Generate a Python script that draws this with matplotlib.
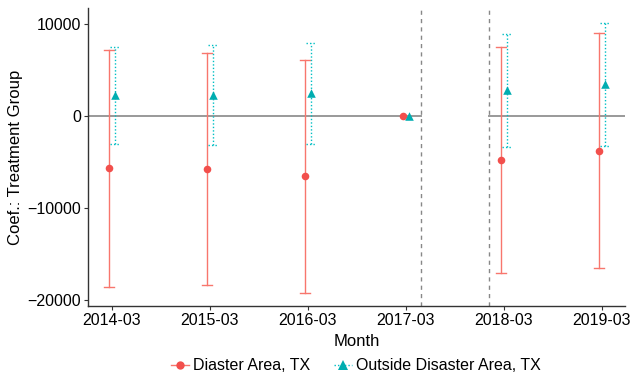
import matplotlib
matplotlib.use("Agg")
import matplotlib.pyplot as plt
from matplotlib.lines import Line2D
import numpy as np

plt.rcParams['font.family'] = ['Liberation Sans', 'DejaVu Sans']

# data
months = ['2014-03', '2015-03', '2016-03', '2017-03', '2018-03', '2019-03']
x_pos = [2014, 2015, 2016, 2017, 2018, 2019]

dis_coef = [-5650, -5800, -6520, 0, -4780, -3770]
dis_lo = [-18550, -18400, -19200, 0, -17030, -16520]
dis_hi = [7170, 6880, 6050, 0, 7500, 8990]

out_coef = [2280, 2280, 2460, 0, 2830, 3480]
out_lo = [-3040, -3150, -3040, 0, -3400, -3260]
out_hi = [7530, 7680, 7900, 0, 8880, 10140]

event_lines = [2017.15, 2017.85]

red = '#F8766D'
red_pt = '#F24F4C'
teal = '#00BFC4'
teal_pt = '#00ADB0'
dodge = 0.028

fig = plt.figure(figsize=(6.3, 3.75), dpi=100)
ax = fig.add_axes([0.14, 0.184, 0.852, 0.795])

x = np.array(x_pos, dtype=float)
xmin, xmax = 2013.757, 2019.235

# zero line, broken between the event lines
ax.plot([xmin, event_lines[0]], [0, 0], color='#999999', lw=1.4, zorder=1)
ax.plot([event_lines[1], xmax], [0, 0], color='#999999', lw=1.4, zorder=1)
for v in event_lines:
    ax.axvline(v, color='#888888', ls=(0, (3, 3)), lw=1.0, zorder=1)

has_ci = [i for i in range(len(x)) if dis_hi[i] != dis_lo[i]]
xd = x - dodge
xo = x + dodge
dot = (0, (1, 1.5))

for i in has_ci:
    # disaster area: solid bars
    ax.plot([xd[i], xd[i]], [dis_lo[i], dis_hi[i]], color=red, lw=1.0, zorder=2)
    ax.plot([xd[i] - 0.05, xd[i] + 0.05], [dis_lo[i]] * 2, color=red, lw=1.0, zorder=2)
    ax.plot([xd[i] - 0.05, xd[i] + 0.05], [dis_hi[i]] * 2, color=red, lw=1.0, zorder=2)
    # outside: dotted bars
    ax.plot([xo[i], xo[i]], [out_lo[i], out_hi[i]], color=teal, lw=1.0, ls=dot, zorder=2)
    ax.plot([xo[i] - 0.05, xo[i] + 0.05], [out_lo[i]] * 2, color=teal, lw=1.0, ls=dot, zorder=2)
    ax.plot([xo[i] - 0.05, xo[i] + 0.05], [out_hi[i]] * 2, color=teal, lw=1.0, ls=dot, zorder=2)

ax.scatter(xd, dis_coef, color=red_pt, marker='o', s=30, zorder=3, linewidths=0)
ax.scatter(xo, out_coef, color=teal_pt, marker='^', s=38, zorder=3, linewidths=0)

ax.set_xlim(xmin, xmax)
ax.set_ylim(-20650, 11740)
ax.set_xticks(x_pos)
ax.set_xticklabels(months)
ax.set_yticks([-20000, -10000, 0, 10000])
ax.set_yticklabels(['\u221220000', '\u221210000', '0', '10000'])
ax.tick_params(labelsize=11.5, length=3, width=0.8, colors='#333333', labelcolor='black', pad=2)

for s in ['top', 'right']:
    ax.spines[s].set_visible(False)
for s in ['left', 'bottom']:
    ax.spines[s].set_color('#333333')
    ax.spines[s].set_linewidth(1.0)

ax.set_xlabel('Month', fontsize=12, labelpad=4)
ax.set_ylabel('Coef.: Treatment Group', fontsize=12, labelpad=3)

handles = [
    Line2D([], [], color=red, marker='o', markersize=6, lw=1.0, ls='-',
           markerfacecolor=red_pt, markeredgewidth=0),
    Line2D([], [], color=teal, marker='^', markersize=6.5, lw=1.0, ls=dot,
           markerfacecolor=teal_pt, markeredgewidth=0),
]
fig.legend(handles, ['Diaster Area, TX', 'Outside Disaster Area, TX'],
           loc='center', bbox_to_anchor=(0.565, 0.024), ncol=2, frameon=False,
           fontsize=11.5, handlelength=1.1, handletextpad=0.25, columnspacing=1.5,
           borderpad=0)

fig.savefig('out.png', dpi=100)
